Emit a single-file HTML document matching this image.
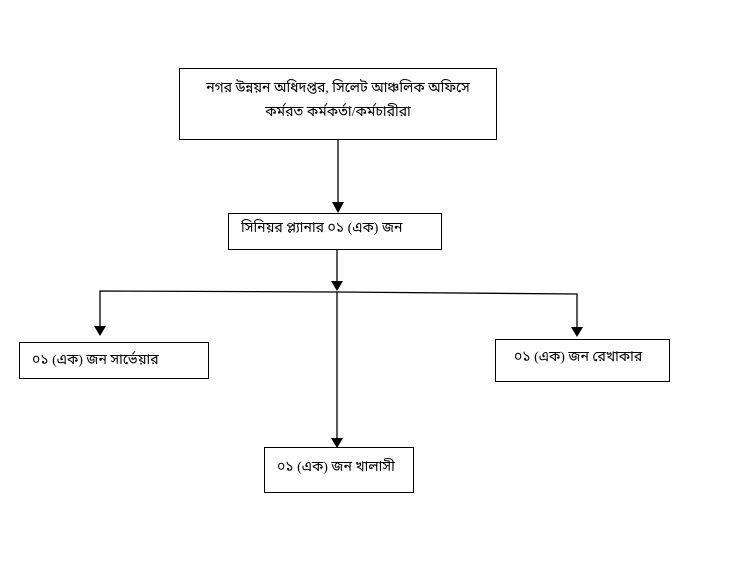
<!DOCTYPE html>
<html><head><meta charset="utf-8"><style>
body{margin:0;width:733px;height:579px;background:#fff;position:relative;overflow:hidden;font-family:"Liberation Serif","Noto Sans Bengali","Lohit Bengali",serif;}
.b{position:absolute;border:1.3px solid #000;box-sizing:border-box;font-size:14px;color:#000;}
</style></head><body>
<svg width="733" height="579" style="position:absolute;left:0;top:0">
<g stroke="#000" stroke-width="1.3" fill="none">
<line x1="338" y1="140" x2="338" y2="203"/>
<line x1="337" y1="250" x2="337" y2="282"/>
<polyline points="100,331 100,291 337,292 577,294 577,328"/>
<line x1="337" y1="292" x2="337" y2="440"/>
</g>
<g fill="#000">
<polygon points="332,202 344,202 338,213"/>
<polygon points="331,281 343,281 337,291"/>
<polygon points="94,326 106,326 100,336"/>
<polygon points="571,327 583,327 577,337"/>
<polygon points="331,438 343,438 337,448"/>
</g>
</svg>
<div class="b" style="left:179px;top:68px;width:318px;height:72px;text-align:center;padding-top:8px;line-height:24px">নগর উন্নয়ন অধিদপ্তর, সিলেট আঞ্চলিক অফিসে<br>কর্মরত কর্মকর্তা/কর্মচারীরা</div>
<div class="b" style="left:228px;top:213px;width:214px;height:37px;padding:5px 0 0 12px">সিনিয়র প্ল্যানার ০১ (এক) জন</div>
<div class="b" style="left:19px;top:342px;width:190px;height:37px;padding:8px 0 0 12px">০১ (এক) জন সার্ভেয়ার</div>
<div class="b" style="left:495px;top:339px;width:175px;height:43px;padding:8px 0 0 18px">০১ (এক) জন রেখাকার</div>
<div class="b" style="left:264px;top:447px;width:150px;height:46px;padding:10px 0 0 12px">০১ (এক) জন খালাসী</div>
</body></html>
